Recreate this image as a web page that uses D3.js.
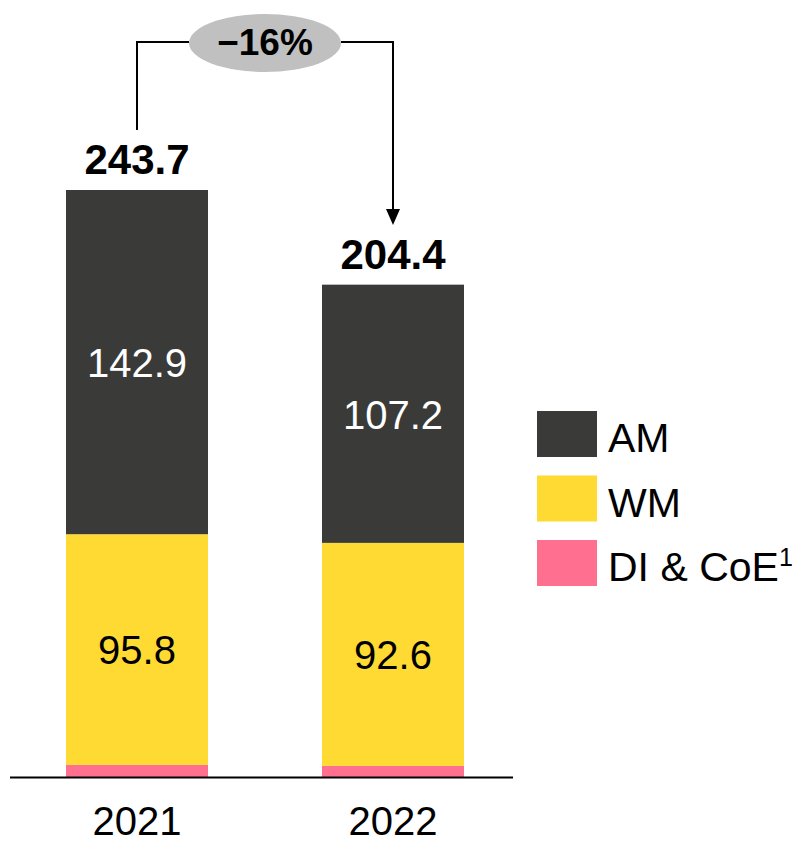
<!DOCTYPE html>
<html>
<head>
<meta charset="utf-8">
<script src="https://cdn.jsdelivr.net/npm/d3@7"></script>
<style>
  html, body { margin: 0; padding: 0; background: #fff; }
  svg { display: block; font-family: "Liberation Sans", Arial, sans-serif; }
</style>
</head>
<body>
<svg id="chart" width="800" height="842"></svg>
<script>
// Revenue split by segment
const years = ["2021", "2022"];
const seriesKeys = ["DI", "WM", "AM"];
const seriesNames = { AM: "AM", WM: "WM", DI: "DI & CoE" };
const amValues = [142.9, 107.2];
const wmValues = [95.8, 92.6];
const diValues = [5.0, 4.6];
const totals = [243.7, 204.4];
const changeLabel = "\u221216%";

const colors = { AM: "#3a3b38", WM: "#ffda33", DI: "#ff7090" };

const rows = years.map((y, i) => ({ year: y, AM: amValues[i], WM: wmValues[i], DI: diValues[i], total: totals[i] }));

const svg = d3.select("#chart");

const x = d3.scaleBand().domain(years).range([66, 464]).paddingInner(0.4453).paddingOuter(0);
const y = d3.scaleLinear().domain([0, 243.7]).range([777, 190]);

const stack = d3.stack().keys(seriesKeys);
const layers = stack(rows);

// stacked bars
svg.append("g").selectAll("g").data(layers).join("g")
  .attr("fill", d => colors[d.key])
  .selectAll("rect").data(d => d).join("rect")
  .attr("x", d => x(d.data.year))
  .attr("width", x.bandwidth())
  .attr("y", d => y(d[1]))
  .attr("height", d => y(d[0]) - y(d[1]));

// segment values inside the bars
const inner = [];
layers.forEach(l => {
  if (l.key === "DI") return;
  l.forEach(d => inner.push({ key: l.key, year: d.data.year, v: d[1] - d[0], mid: (d[0] + d[1]) / 2 }));
});
svg.append("g").selectAll("text").data(inner).join("text")
  .attr("x", d => x(d.year) + x.bandwidth() / 2)
  .attr("y", d => y(d.mid))
  .attr("dy", "0.37em")
  .attr("text-anchor", "middle")
  .attr("font-size", 40)
  .attr("fill", d => d.key === "AM" ? "#ffffff" : "#000000")
  .text(d => d.v.toFixed(1));

// totals above the bars
svg.append("g").selectAll("text").data(rows).join("text")
  .attr("x", d => x(d.year) + x.bandwidth() / 2)
  .attr("y", d => y(d.total) - 16)
  .attr("text-anchor", "middle")
  .attr("font-size", 42)
  .attr("font-weight", "bold")
  .attr("fill", "#000")
  .text(d => d.total.toFixed(1));

// baseline
svg.append("line")
  .attr("x1", 10).attr("x2", 513)
  .attr("y1", y(0) + 0.5).attr("y2", y(0) + 0.5)
  .attr("stroke", "#000").attr("stroke-width", 2);

// year labels
const xAxis = d3.axisBottom(x).tickSize(0).tickPadding(0);
const gx = svg.append("g").attr("transform", `translate(0,${y(0)})`).call(xAxis);
gx.select(".domain").remove();
gx.selectAll("text")
  .attr("font-size", 40)
  .attr("font-family", "Liberation Sans, Arial, sans-serif")
  .attr("fill", "#000")
  .attr("y", 58)
  .attr("dy", 0);

// change bracket between the two totals
const cx0 = x(years[0]) + x.bandwidth() / 2;
const cx1 = x(years[1]) + x.bandwidth() / 2;
const topY = 42;
const ell = { cx: 265, cy: 43, rx: 76, ry: 29 };
const arrowTip = 225;

svg.append("path")
  .attr("d", `M${cx0},${y(totals[0]) - 60} V${topY} H${ell.cx - ell.rx}`)
  .attr("fill", "none").attr("stroke", "#000").attr("stroke-width", 2);
svg.append("path")
  .attr("d", `M${ell.cx + ell.rx},${topY} H${cx1} V${arrowTip - 14}`)
  .attr("fill", "none").attr("stroke", "#000").attr("stroke-width", 2);
svg.append("path")
  .attr("d", `M${cx1 - 7},${arrowTip - 16} L${cx1 + 7},${arrowTip - 16} L${cx1},${arrowTip} Z`)
  .attr("fill", "#000");

svg.append("ellipse")
  .attr("cx", ell.cx).attr("cy", ell.cy).attr("rx", ell.rx).attr("ry", ell.ry)
  .attr("fill", "#c0c0c0");
svg.append("text")
  .attr("x", ell.cx).attr("y", 55)
  .attr("text-anchor", "middle")
  .attr("font-size", 37).attr("font-weight", "bold")
  .text(changeLabel);

// legend
const legendKeys = ["AM", "WM", "DI"];
const lg = svg.append("g").attr("transform", "translate(537,411)");
const item = lg.selectAll("g").data(legendKeys).join("g")
  .attr("transform", (d, i) => `translate(0,${i * 64.5})`);
item.append("rect").attr("width", 60).attr("height", 46).attr("fill", d => colors[d]);
const lt = item.append("text")
  .attr("x", 71).attr("y", 41)
  .attr("font-size", 41).attr("fill", "#000")
  .text(d => seriesNames[d]);
lt.filter(d => d === "DI").append("tspan")
  .attr("font-size", 25).attr("dy", "-0.6em").text("1");
</script>
</body>
</html>
